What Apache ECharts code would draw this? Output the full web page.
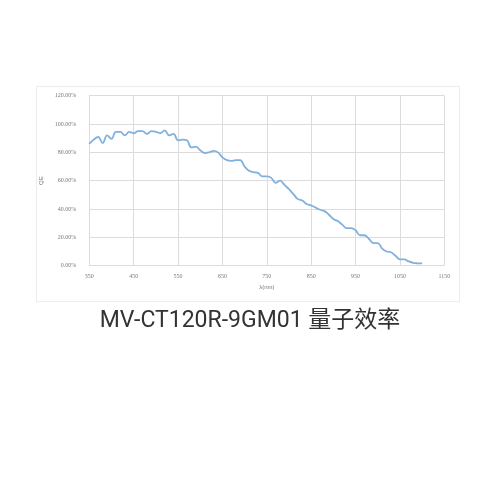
<!DOCTYPE html>
<html><head><meta charset="utf-8">
<script src="https://cdn.jsdelivr.net/npm/echarts@6/dist/echarts.min.js"></script>
<style>html,body{margin:0;padding:0;background:#fff}#c{width:500px;height:500px}</style>
</head><body><div id="c"></div>
<script>
const wavelengths = [350,360,370,380,390,400,410,420,430,440,450,460,470,480,490,500,510,520,530,540,550,560,570,580,590,600,610,620,630,640,650,660,670,680,690,700,710,720,730,740,750,760,770,780,790,800,810,820,830,840,850,860,870,880,890,900,910,920,930,940,950,960,970,980,990,1000,1010,1020,1030,1040,1050,1060,1070,1080,1090,1100];
const qeValues = [86,89,91,86.5,92,89.5,94.5,94.5,92,94.5,93.5,95,95,93,95,94.5,93.5,95.5,92,93,88.5,89,88.5,83.5,84,81.5,79.5,80,81,80,76.5,74.5,74,74.5,74.5,70,67,66,65.5,63,63,62,58.5,60,57,54,50.5,47,46,43.5,42.5,41,39.5,38.5,36,33,31.5,29,26.5,26.5,25,21.5,21.5,19,16,16,12,10,9.5,7,4.5,4.5,3,2,1.7,1.6];
const xTicks = [350,450,550,650,750,850,950,1050,1150];
const titleText = 'MV-CT120R-9GM01 量子效率';
const xName = 'λ(nm)';
const yName = 'QE';

const chart = echarts.init(document.getElementById('c'), null, {renderer:'canvas'});
const gridColor = '#dcdcdc';
chart.setOption({
  animation:false,
  backgroundColor:'#fff',
  graphic:[
    {type:'rect', shape:{x:36.5,y:86.5,width:423,height:215}, style:{fill:'none', stroke:'#ececec', lineWidth:1}, z:-1},
    {type:'text', left:'center', top:310, style:{text:titleText, fontSize:23, fill:'#333', fontFamily:'Roboto, "Noto Sans CJK SC", sans-serif'}}
  ],
  grid:{left:89.3, right:55.7, top:95.7, bottom:234.3},
  xAxis:{
    type:'value', min:350, max:1150, interval:100,
    name:xName, nameLocation:'middle', nameGap:19,
    nameTextStyle:{fontSize:6, color:'#777'},
    axisLine:{show:true, lineStyle:{color:gridColor}},
    axisTick:{show:false},
    axisLabel:{fontSize:6, color:'#777', margin:8, fontFamily:'Liberation Serif, serif', formatter:v=>xTicks.includes(v)?String(v):''},
    splitLine:{show:true, lineStyle:{color:gridColor, width:1}}
  },
  yAxis:{
    type:'value', min:0, max:120, interval:20,
    name:yName, nameLocation:'middle', nameGap:38, nameRotate:90,
    nameTextStyle:{fontSize:6, color:'#777'},
    axisLine:{show:true, lineStyle:{color:gridColor}},
    axisTick:{show:false},
    axisLabel:{fontSize:6, color:'#777', margin:13, fontFamily:'Liberation Serif, serif', formatter:v=>v.toFixed(2)+'%'},
    splitLine:{show:true, lineStyle:{color:gridColor, width:1}}
  },
  series:[{
    type:'line', data:wavelengths.map((w,i)=>[w,qeValues[i]]),
    smooth:0.4, showSymbol:false,
    lineStyle:{color:'#80b1de', width:1.8}
  }]
});
</script></body></html>
